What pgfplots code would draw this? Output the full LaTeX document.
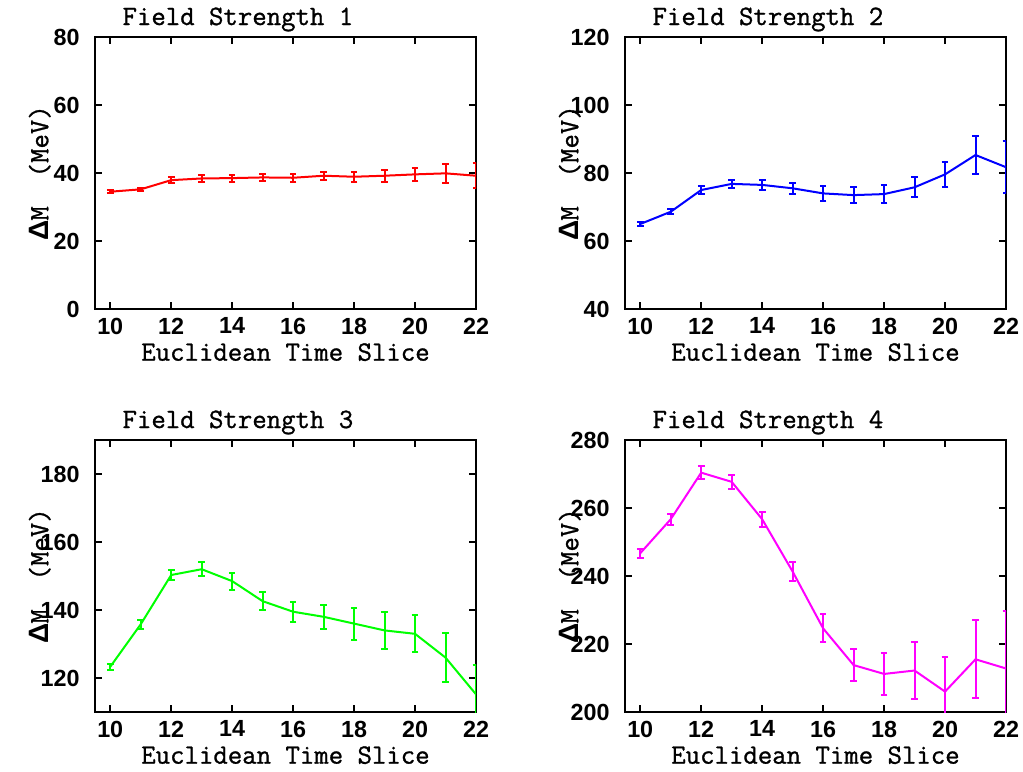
\documentclass[border=0pt]{standalone}
\usepackage{pgfplots}
\pgfplotsset{compat=1.18}
\usepackage{fontspec}
\newfontfamily\tickfont{Liberation Sans}
\newfontfamily\labfont{Latin Modern Mono}[FakeBold=1]
\definecolor{cRed}{RGB}{255,0,0}
\definecolor{cBlue}{RGB}{0,0,255}
\definecolor{cGreen}{RGB}{0,255,0}
\definecolor{cMag}{RGB}{255,0,255}

\pgfplotsset{
 every axis title/.style={at={(0.06,1)}, anchor=base west, yshift=9pt},
 fsaxis/.style={
  width=285.75pt, height=204pt, scale only axis,
  anchor=south west,
  xmin=9.5, xmax=22, xtick={10,12,...,22},
  tick align=inside, major tick length=5pt,
  axis line style={line width=1.4pt},
  every tick/.style={black, line width=1.4pt},
  tick label style={font=\tickfont\bfseries\fontsize{17.5}{19}\selectfont},
  yticklabel style={xshift=-8pt},
  xticklabel style={yshift=-3pt},
  /pgf/number format/assume math mode=true,
  label style={font=\labfont\fontsize{21}{23}\selectfont},
  title style={font=\labfont\fontsize{21}{23}\selectfont},
  xlabel={Euclidean Time Slice},
  ylabel={{\tickfont\bfseries Δ}M\ \ (MeV)},
  xlabel style={at={(axis description cs:0.5,-0.19)}, anchor=base},
  ylabel style={at={(axis description cs:-0.145,0.5)}, anchor=center},
 },
 fsplot/.style={line width=1.5pt, color=#1, mark=none,
   error bars/.cd, y dir=both, y explicit, error mark=-,
   error bar style={line width=1.5pt, #1},
   error mark options={rotate=90, line width=1.5pt, mark size=2.5pt, #1}}
}

\pgfplotstableread{
x y e
10 34.5 0.5
11 35.2 0.5
12 37.9 0.8
13 38.4 0.9
14 38.5 1.0
15 38.7 1.0
16 38.6 1.1
17 39.2 1.2
18 38.9 1.5
19 39.2 1.8
20 39.6 2.0
21 39.9 2.7
22 39.2 3.7
}\fsone

\pgfplotstableread{
x y e
10 65.0 0.7
11 68.6 0.8
12 75.0 1.2
13 76.8 1.2
14 76.5 1.4
15 75.5 1.7
16 74.0 2.2
17 73.5 2.3
18 73.8 2.7
19 75.8 3.0
20 79.6 3.6
21 85.3 5.6
22 81.7 7.6
}\fstwo

\pgfplotstableread{
x y e
10 123.3 0.9
11 135.8 1.3
12 150.3 1.6
13 152.0 2.0
14 148.5 2.5
15 142.6 2.6
16 139.5 2.9
17 138.0 3.6
18 136.0 4.7
19 134.0 5.4
20 133.0 5.4
21 126.0 7.3
22 115.2 8.6
}\fsthree

\pgfplotstableread{
x y e
10 246.7 1.3
11 256.7 1.6
12 270.4 2.0
13 267.7 2.1
14 256.7 2.2
15 241.3 2.9
16 224.6 4.1
17 213.8 4.7
18 211.2 6.1
19 212.2 8.5
20 206.0 10.3
21 215.5 11.5
22 212.8 17.0
}\fsfour

\begin{document}
\begin{tikzpicture}
\path[use as bounding box] (0,0) rectangle (767.25pt,-578.25pt);

\begin{axis}[fsaxis, at={(71.25pt,-231.75pt)}, title={Field Strength 1},
  ymin=0, ymax=80, ytick={0,20,...,80}]
\addplot+[fsplot=cRed] table[x=x, y=y, y error=e] {\fsone};
\end{axis}

\begin{axis}[fsaxis, at={(468.75pt,-231.75pt)}, title={Field Strength 2},
  ymin=40, ymax=120, ytick={40,60,...,120}]
\addplot+[fsplot=cBlue] table[x=x, y=y, y error=e] {\fstwo};
\end{axis}

\begin{axis}[fsaxis, at={(71.25pt,-534pt)}, title={Field Strength 3},
  ymin=110, ymax=190, ytick={120,140,...,180}]
\addplot+[fsplot=cGreen] table[x=x, y=y, y error=e] {\fsthree};
\end{axis}

\begin{axis}[fsaxis, at={(468.75pt,-534pt)}, title={Field Strength 4},
  ymin=200, ymax=280, ytick={200,220,...,280}]
\addplot+[fsplot=cMag] table[x=x, y=y, y error=e] {\fsfour};
\end{axis}
\end{tikzpicture}
\end{document}
